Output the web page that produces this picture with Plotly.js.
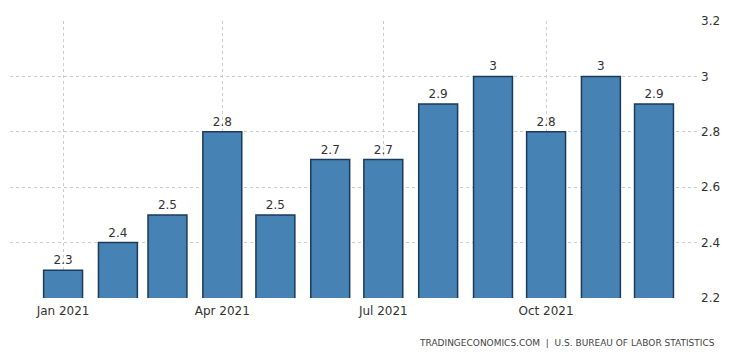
<!DOCTYPE html>
<html><head><meta charset="utf-8">
<script src="https://cdn.plot.ly/plotly-3.0.1.min.js"></script>
<style>html,body{margin:0;padding:0;background:#fff}#chart{width:744px;height:362px}</style>
</head><body><div id="chart"></div>
<script>
const months = ['2021-01-01','2021-02-01','2021-03-01','2021-04-01','2021-05-01','2021-06-01','2021-07-01','2021-08-01','2021-09-01','2021-10-01','2021-11-01','2021-12-01'];
const values = [2.3,2.4,2.5,2.8,2.5,2.7,2.7,2.9,3.0,2.8,3.0,2.9];
const labels = ['2.3','2.4','2.5','2.8','2.5','2.7','2.7','2.9','3','2.8','3','2.9'];
const xTicks = ['2021-01-01','2021-04-01','2021-07-01','2021-10-01'];
const xTickText = ['Jan 2021','Apr 2021','Jul 2021','Oct 2021'];
const yTicks = [2.2,2.4,2.6,2.8,3,3.2];

const trace = {
  type:'bar', x:months, y:values, text:labels, textposition:'outside',
  cliponaxis:false,
  textfont:{family:'Tahoma, "DejaVu Sans", sans-serif', size:12, color:'#333'},
  marker:{color:'#4682b4', line:{color:'#1c3a5a', width:1.5}},
  width:22*86400000, hoverinfo:'none'
};
const layout = {
  width:744, height:362,
  margin:{l:10, r:44, t:21, b:64},
  paper_bgcolor:'#fff', plot_bgcolor:'#fff',
  showlegend:false,
  font:{family:'Tahoma, "DejaVu Sans", sans-serif', size:12, color:'#333'},
  xaxis:{type:'date', range:['2020-12-02','2021-12-27'], tickvals:xTicks, ticktext:xTickText,
    showgrid:true, gridcolor:'#ccc', griddash:'dot', gridwidth:1, zeroline:false,
    showline:false, ticks:'', ticklabelstandoff:4, tickfont:{size:12,color:'#333'}},
  yaxis:{side:'right', range:[2.2,3.2], tickvals:yTicks, ticktext:yTicks.map(String),
    showgrid:true, gridcolor:'#ccc', griddash:'dot', gridwidth:1, zeroline:false,
    showline:false, ticks:'', tickfont:{size:12,color:'#333'}},
  annotations:[{xref:'paper', yref:'paper', x:1.025, y:-0.163, xanchor:'right', yanchor:'middle',
    text:'TRADINGECONOMICS.COM  |  U.S. BUREAU OF LABOR STATISTICS', showarrow:false,
    font:{family:'Tahoma, "DejaVu Sans", sans-serif', size:9, color:'#444'}}]
};
Plotly.newPlot('chart',[trace],layout,{staticPlot:true,displayModeBar:false});
</script></body></html>
